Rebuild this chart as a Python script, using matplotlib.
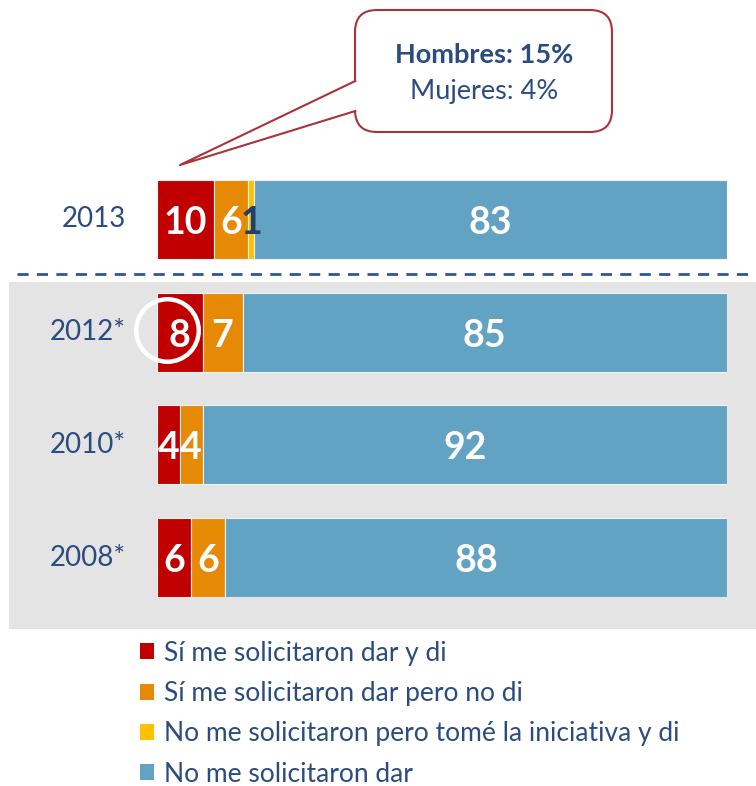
import matplotlib
matplotlib.use("Agg")
import matplotlib.pyplot as plt
from matplotlib.patches import Rectangle, FancyBboxPatch, Polygon
from matplotlib.transforms import ScaledTranslation

plt.rcParams["font.family"] = ["Lato", "DejaVu Sans"]

# datos
years = ["2013", "2012*", "2010*", "2008*"]
si_di = [10, 8, 4, 6]
si_no_di = [6, 7, 4, 6]
iniciativa = [1, 0, 0, 0]
no_solicitaron = [83, 85, 92, 88]
series_labels = ["Sí me solicitaron dar y di",
                 "Sí me solicitaron dar pero no di",
                 "No me solicitaron pero tomé la iniciativa y di",
                 "No me solicitaron dar"]
colors = ["#C00000", "#E68A06", "#FFC000", "#62A3C3"]
label_colors = ["white", "white", "#1F3F6F", "white"]
navy = "#2B4C7E"

W, H = 756, 786
fig = plt.figure(figsize=(W / 100, H / 100), dpi=100)

# capa de fondo en pixeles
bg = fig.add_axes([0, 0, 1, 1], zorder=0)
bg.set_xlim(0, W)
bg.set_ylim(H, 0)
bg.axis("off")
bg.add_patch(Rectangle((9, 282), W - 9, 347, facecolor="#E4E4E4", edgecolor="none"))
bg.plot([17, W], [274, 274], color="#2F5597", lw=2, dashes=(4, 3))

# callout
box = FancyBboxPatch((367, 22), 233, 98, boxstyle="round,pad=12,rounding_size=22",
                     facecolor="white", edgecolor="#A8343A", lw=1.5)
bg.add_patch(box)
bg.add_patch(Polygon([(356, 81), (180, 165), (356, 111), (360, 111), (360, 81)],
                     closed=True, facecolor="white", edgecolor="none", zorder=3))
bg.plot([355.3, 180, 355.3], [81, 165, 111], color="#A8343A", lw=1.5, zorder=4)
bg.text(484, 55, "Hombres: 15%", ha="center", va="center", fontsize=19.5,
        fontweight="bold", color=navy, zorder=5)
bg.text(484, 91, "Mujeres: 4%", ha="center", va="center", fontsize=19.5,
        color=navy, zorder=5)

# barras
ax = fig.add_axes([157 / W, 1 - 597 / H, 570 / W, 417 / H], zorder=1)
ax.patch.set_alpha(0)
ypos = list(range(len(years)))
series = [si_di, si_no_di, iniciativa, no_solicitaron]
left = [0] * len(years)
handles = []
for vals, col, lcol, lab in zip(series, colors, label_colors, series_labels):
    bars = ax.barh(ypos, vals, left=left, height=0.7, color=col,
                   edgecolor="#F2F2F2", lw=0.8, label=lab)
    handles.append(bars)
    for y, v, l in zip(ypos, vals, left):
        if v > 0:
            ax.text(l + v / 2, y + 0.03, str(v), ha="center", va="center",
                    fontsize=27, fontweight="bold", color=lcol)
    left = [a + b for a, b in zip(left, vals)]

ax.set_xlim(0, 100)
ax.set_ylim(len(years) - 1 + 0.35, -0.35)
ax.axis("off")
for y, name in zip(ypos, years):
    ax.text(-5.4, y, name, ha="right", va="center", fontsize=20, color=navy)

# circulo sobre 2012
shift = ScaledTranslation(-13 / 100, 2 / 100, fig.dpi_scale_trans)
ax.plot([si_di[1] / 2], [1], marker="o", markersize=45, markerfacecolor="none",
        markeredgecolor="white", markeredgewidth=3.2, transform=ax.transData + shift,
        clip_on=False)

# leyenda
leg = fig.legend(handles=handles, labels=series_labels, loc="upper left",
                 bbox_to_anchor=(116 / W, 1 - 617 / H), frameon=False, fontsize=19,
                 handlelength=0.55, handleheight=0.55, handletextpad=0.35,
                 labelspacing=0.58, labelcolor=navy)
for h in leg.legend_handles:
    h.set_edgecolor("none")

fig.savefig("out.png", dpi=100)
